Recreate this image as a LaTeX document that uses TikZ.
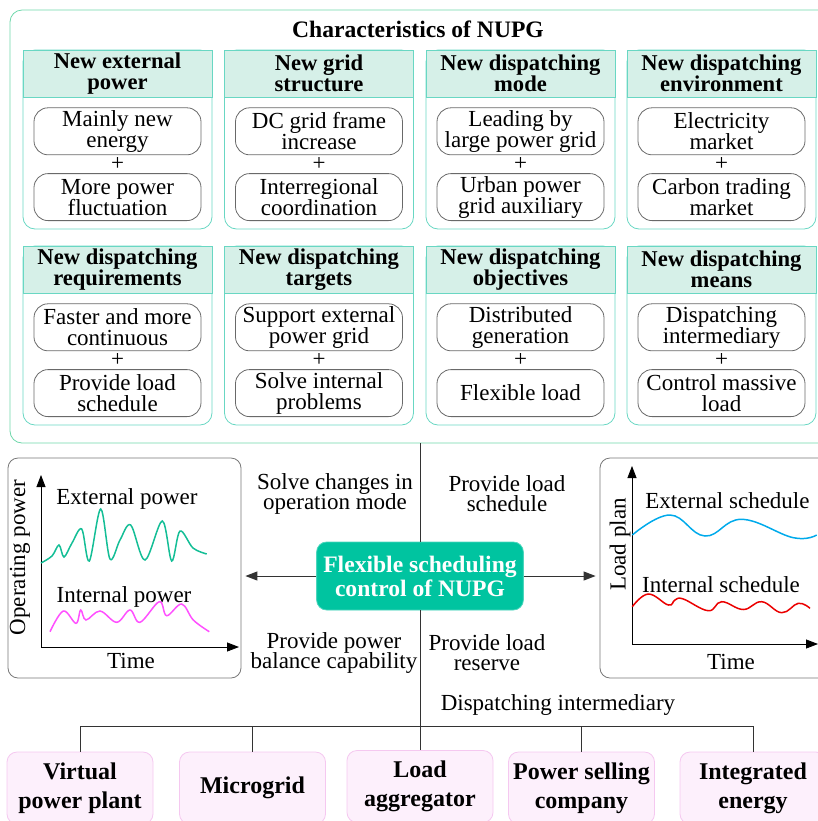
\documentclass[tikz,border=0pt]{standalone}
\usepackage{fontspec}
\setmainfont{Liberation Serif}
\usetikzlibrary{positioning,arrows.meta}

\newcommand\tightlines{\lineskiplimit=-20pt\relax}

\definecolor{outergreen}{RGB}{110,215,170}
\definecolor{cardline}{RGB}{105,215,195}
\definecolor{headfill}{RGB}{214,240,232}
\definecolor{boxline}{RGB}{105,105,105}
\definecolor{plotline}{RGB}{120,120,120}
\definecolor{coreteal}{RGB}{0,196,160}
\definecolor{pinkfill}{RGB}{253,240,252}
\definecolor{pinkline}{RGB}{245,200,240}
\definecolor{extgreen}{RGB}{20,190,150}
\definecolor{intmagenta}{RGB}{255,80,255}
\definecolor{schedblue}{RGB}{0,170,235}
\definecolor{schedred}{RGB}{235,0,0}

\begin{document}
\begin{tikzpicture}[x=0.5pt, y=-0.5pt, node distance=5pt,
    outer/.style={draw=outergreen, rounded corners=6pt, minimum width=410pt, minimum height=216.5pt},
    title/.style={font=\bfseries\fontsize{11.8}{12}\selectfont},
    card/.style={draw=cardline, rounded corners=6pt, minimum width=94.5pt, minimum height=89.5pt},
    head/.style={draw=cardline, fill=headfill, minimum width=94.5pt, minimum height=23.5pt, inner sep=0pt, align=center, font={\bfseries\fontsize{11.3}{10.5}\selectfont\tightlines}},
    item/.style={draw=boxline, rounded corners=7pt, minimum width=83.5pt, minimum height=23.5pt, inner sep=0pt, align=center, font={\fontsize{11.5}{10.5}\selectfont\tightlines}},
    plus/.style={inner sep=0pt, font=\fontsize{11.5}{10.5}\selectfont},
    plotbox/.style={draw=plotline, rounded corners=5pt, minimum height=110pt},
    axis/.style={-{Triangle[length=6pt,width=4.5pt]}},
    curve/.style={line width=0.75pt},
    core/.style={fill=coreteal, draw=coreteal!70!white, text=white, rounded corners=5pt, minimum width=103pt, minimum height=34pt, align=center, font=\bfseries\fontsize{11.8}{12}\selectfont},
    note/.style={align=center, inner sep=0pt, font={\fontsize{11.5}{10}\selectfont\tightlines}},
    agent/.style={draw=pinkline, fill=pinkfill, rounded corners=5pt, minimum width=73pt, minimum height=36pt, inner sep=0pt, align=center, font=\bfseries\fontsize{12}{14.5}\selectfont},
    link/.style={draw=black!80, line width=0.5pt},
    arrow/.style={link, -{Triangle[length=6pt,width=4.5pt]}}]

    \useasboundingbox (0,0) rectangle (818,821);

    \node[outer] (chars) at (420,226.5) {};
    \node[title] (charstitle) at (418,29) {Characteristics of NUPG};

    \node[card] (powercard) at (117.5,139.5) {};
    \node[head, below=0pt of powercard.north] (power) {New external\\power};
    \node[item, below=of power] (power1) {Mainly new\\energy};
    \node[item, below=9pt of power1] (power2) {More power\\fluctuation};
    \path (power1) -- node[plus] (powerplus) {+} (power2);

    \node[card] (structurecard) at (319,139.5) {};
    \node[head, below=0pt of structurecard.north] (structure) {New grid\\structure};
    \node[item, below=of structure] (structure1) {DC grid frame\\increase};
    \node[item, below=9pt of structure1] (structure2) {Interregional\\coordination};
    \path (structure1) -- node[plus] (structureplus) {+} (structure2);

    \node[card] (modecard) at (520.5,139.5) {};
    \node[head, below=0pt of modecard.north] (mode) {New dispatching\\mode};
    \node[item, below=of mode] (mode1) {Leading by\\large power grid};
    \node[item, below=9pt of mode1] (mode2) {Urban power\\grid auxiliary};
    \path (mode1) -- node[plus] (modeplus) {+} (mode2);

    \node[card] (environmentcard) at (721.5,139.5) {};
    \node[head, below=0pt of environmentcard.north] (environment) {New dispatching\\environment};
    \node[item, below=of environment] (environment1) {Electricity\\market};
    \node[item, below=9pt of environment1] (environment2) {Carbon trading\\market};
    \path (environment1) -- node[plus] (environmentplus) {+} (environment2);

    \node[card] (requirementscard) at (117.5,335.5) {};
    \node[head, below=0pt of requirementscard.north] (requirements) {New dispatching\\requirements};
    \node[item, below=of requirements] (requirements1) {Faster and more\\continuous};
    \node[item, below=9pt of requirements1] (requirements2) {Provide load\\schedule};
    \path (requirements1) -- node[plus] (requirementsplus) {+} (requirements2);

    \node[card] (targetscard) at (319,335.5) {};
    \node[head, below=0pt of targetscard.north] (targets) {New dispatching\\targets};
    \node[item, below=of targets] (targets1) {Support external\\power grid};
    \node[item, below=9pt of targets1] (targets2) {Solve internal\\problems};
    \path (targets1) -- node[plus] (targetsplus) {+} (targets2);

    \node[card] (objectivescard) at (520.5,335.5) {};
    \node[head, below=0pt of objectivescard.north] (objectives) {New dispatching\\objectives};
    \node[item, below=of objectives] (objectives1) {Distributed\\generation};
    \node[item, below=9pt of objectives1] (objectives2) {Flexible load};
    \path (objectives1) -- node[plus] (objectivesplus) {+} (objectives2);

    \node[card] (meanscard) at (721.5,335.5) {};
    \node[head, below=0pt of meanscard.north] (means) {New dispatching\\means};
    \node[item, below=of means] (means1) {Dispatching\\intermediary};
    \node[item, below=9pt of means1] (means2) {Control massive\\load};
    \path (means1) -- node[plus] (meansplus) {+} (means2);

    \node[core] (core) at (420,576) {Flexible scheduling\\control of NUPG};

    \node[plotbox, minimum width=116.5pt] (powerplot) at (124.5,568) {};
    \coordinate (po) at (41,647);
    \draw[axis] (po) -- (41,475);
    \draw[axis] (po) -- (239,647);
    \node[note, rotate=90] (powery) at (20,557.5) {Operating power};
    \node[note] (powerx) at (131,661) {Time};
    \node[note] (extname) at (127,499) {External power};
    \node[note] (intname) at (124,597) {Internal power};
    \draw[curve, extgreen] plot[smooth, tension=0.55] coordinates {(41,563) (52,556) (59,545) (64,557) (72,543) (81.7,529) (89.3,561) (100.7,509) (110,559) (120,540) (130.7,525) (145,560) (162.3,521) (171.7,561) (180,531) (193,548) (206.7,554)};
    \draw[curve, intmagenta] plot[smooth, tension=0.6] coordinates {(50,631.7) (63.3,611) (76,623.3) (80.7,610) (86,620) (100,611) (116.7,622.3) (130,610) (140,622.3) (159.3,601.7) (166.7,615.7) (181.7,604) (193.3,620) (209.3,631.7)};

    \node[plotbox, minimum width=120pt] (schedplot) at (720,568) {};
    \coordinate (so) at (632,644);
    \draw[axis] (so) -- (632,466);
    \draw[axis] (so) -- (818,644);
    \node[note, rotate=90] (schedy) at (620,544.5) {Load plan};
    \node[note] (schedx) at (731,662) {Time};
    \node[note] (extsched) at (727.5,501) {External schedule};
    \node[note] (intsched) at (721,585) {Internal schedule};
    \draw[curve, schedblue] plot[smooth, tension=0.7] coordinates {(632.3,535) (670,515) (705,536) (741.7,519.3) (793.3,537.7) (816.7,535)};
    \draw[curve, schedred] plot[smooth, tension=0.7] coordinates {(632.3,606.7) (648.3,594) (668.3,605) (675,600) (683.3,599) (708.3,610.7) (721.7,601.7) (743.3,609.5) (761.7,601.7) (781.7,612.7) (798.3,603.3) (810,608.3)};

    \node[note] (changes) at (335,494) {Solve changes in\\operation mode};
    \node[note] (schedule) at (507,494) {Provide load\\schedule};
    \node[note] (balance) at (334,653) {Provide power\\balance capability};
    \node[note] (reserve) at (487,653) {Provide load\\reserve};
    \node[note] (intermediary) at (558,705) {Dispatching intermediary};

    \node[agent] (plant) at (80,788) {Virtual\\power plant};
    \node[agent] (microgrid) at (252.5,788) {Microgrid};
    \node[agent] (aggregator) at (420,786.5) {Load\\aggregator};
    \node[agent] (company) at (581.5,788) {Power selling\\company};
    \node[agent] (energy) at (753,788) {Integrated\\energy};

    \coordinate (bus) at (420,726);
    \draw[link] (chars.south) -- (core.north);
    \draw[link] (core.south) -- (aggregator.north);
    \draw[arrow] (core.west) -- ([xshift=2pt]core.west -| powerplot.east);
    \draw[arrow] (core.east) -- ([xshift=-2pt]core.east -| schedplot.west);
    \draw[link] (plant.north) |- (bus) -| (energy.north);
    \draw[link] (microgrid.north) -- (microgrid.north |- bus);
    \draw[link] (company.north) -- (company.north |- bus);

\end{tikzpicture}
\end{document}
